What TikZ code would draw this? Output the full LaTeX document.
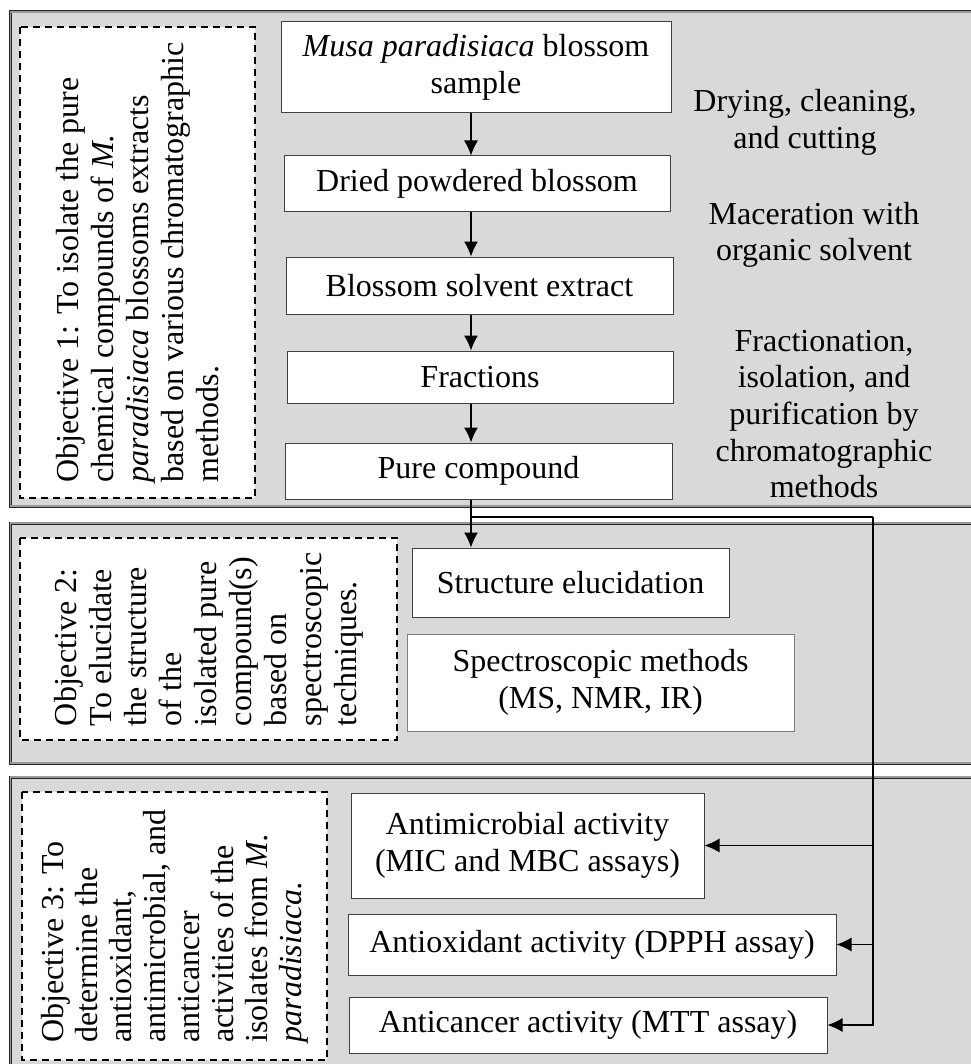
\documentclass[tikz,border=0pt]{standalone}
\usepackage{fontspec}
\setmainfont{Liberation Serif}
\usepackage{tikz}
\usetikzlibrary{arrows.meta}

\definecolor{panelgray}{RGB}{217,217,217}

\begin{document}
\begin{tikzpicture}[x=0.5pt,y=-0.5pt,
    font=\fontsize{16}{18.3}\selectfont,
    >={Latex[length=7.5pt,width=7pt]},
    panel/.style={draw=black!85, line width=0.45pt, double=black!40, double distance=0.6pt, fill=panelgray},
    stepbox/.style={draw=black!75, line width=0.5pt, fill=white, align=center, inner sep=0pt},
    objbox/.style={draw, dash pattern=on 3.5pt off 2.5pt, line width=0.8pt, fill=white, rotate=90, align=left, inner sep=0pt, font=\fontsize{16}{17.5}\selectfont},
    note/.style={align=center},
    flowline/.style={line width=0.6pt}]
    \pgfmathsetmacro{\flowx}{471}
    \pgfmathsetmacro{\busx}{873}
    \pgfmathsetmacro{\busy}{517}
    \useasboundingbox (0,0) rectangle (970,1064);

    % Draw the panels
    \draw [panel] (10.5,12) rectangle (1000,506);
    \draw [panel] (10.5,523) rectangle (1000,763);
    \draw [panel] (10.5,777) rectangle (1000,1100);

    % Objective 1: isolation
    \node [objbox, minimum width=235.5pt, minimum height=117.5pt] (obj1) at (137.5,262.5)
        {Objective 1: To isolate the pure\\chemical compounds of \textit{M.}\\\textit{paradisiaca} blossoms extracts\\based on various chromatographic\\methods.};
    \node [stepbox, minimum width=195pt, minimum height=45.5pt] (sample) at (476,67.5) {\textit{Musa paradisiaca} blossom\\sample};
    \node [stepbox, minimum width=193pt, minimum height=28pt] (powder) at (477,184) {Dried powdered blossom};
    \node [stepbox, minimum width=193.5pt, minimum height=28.5pt] (extract) at (479.5,285.5) {Blossom solvent extract};
    \node [stepbox, minimum width=193pt, minimum height=26pt] (fractions) at (480,377) {Fractions};
    \node [stepbox, minimum width=193.5pt, minimum height=28pt] (pure) at (478.5,471) {Pure compound};
    \node [note] (drying) at (805,122.5) {Drying, cleaning,\\and cutting};
    \node [note] (macer) at (814,235) {Maceration with\\organic solvent};
    \node [note] (fract) at (824,414) {Fractionation,\\isolation, and\\purification by\\chromatographic\\methods};

    % Objective 2: structure
    \node [objbox, minimum width=101pt, minimum height=188.5pt] (obj2) at (208.5,639)
        {Objective 2:\\To elucidate\\the structure\\of the\\isolated pure\\compound(s)\\based on\\spectroscopic\\techniques.};
    \node [stepbox, minimum width=158.5pt, minimum height=34.5pt] (struct) at (570.5,582.5) {Structure elucidation};
    \node [stepbox, draw=black!50, minimum width=193.5pt, minimum height=48.5pt] (spectro) at (600.5,682.5) {Spectroscopic methods\\(MS, NMR, IR)};

    % Objective 3: activities
    \node [objbox, minimum width=134pt, minimum height=152.5pt, font=\fontsize{16}{17}\selectfont] (obj3) at (174.5,926)
        {Objective 3: To\\determine the\\antioxidant,\\antimicrobial, and\\anticancer\\activities of the\\isolates from \textit{M.}\\\textit{paradisiaca.}};
    \node [stepbox, minimum width=176.5pt, minimum height=52.5pt] (micro) at (527.5,845.5) {Antimicrobial activity\\(MIC and MBC assays)};
    \node [stepbox, minimum width=244pt, minimum height=30.5pt] (antiox) at (592,944.5) {Antioxidant activity (DPPH assay)};
    \node [stepbox, minimum width=239pt, minimum height=28pt] (cancer) at (588,1025) {Anticancer activity (MTT assay)};

    % Draw the flow
    \coordinate (flow) at (\flowx,0);
    \coordinate (split) at (\flowx,\busy);
    \coordinate (bus) at (\busx,\busy);
    \draw [flowline,->] (flow |- sample.south) -- (flow |- powder.north);
    \draw [flowline,->] (flow |- powder.south) -- (flow |- extract.north);
    \draw [flowline,->] (flow |- extract.south) -- (flow |- fractions.north);
    \draw [flowline,->] (flow |- fractions.south) -- (flow |- pure.north);
    \draw [flowline,->] (flow |- pure.south) -- (flow |- struct.north);
    \draw [flowline] (split) -- (bus);
    \draw [flowline,->] (bus) |- (cancer.east);
    \draw [flowline,->] (bus |- micro.east) -- (micro.east);
    \draw [flowline,->] (bus |- antiox.east) -- (antiox.east);

\end{tikzpicture}
\end{document}
